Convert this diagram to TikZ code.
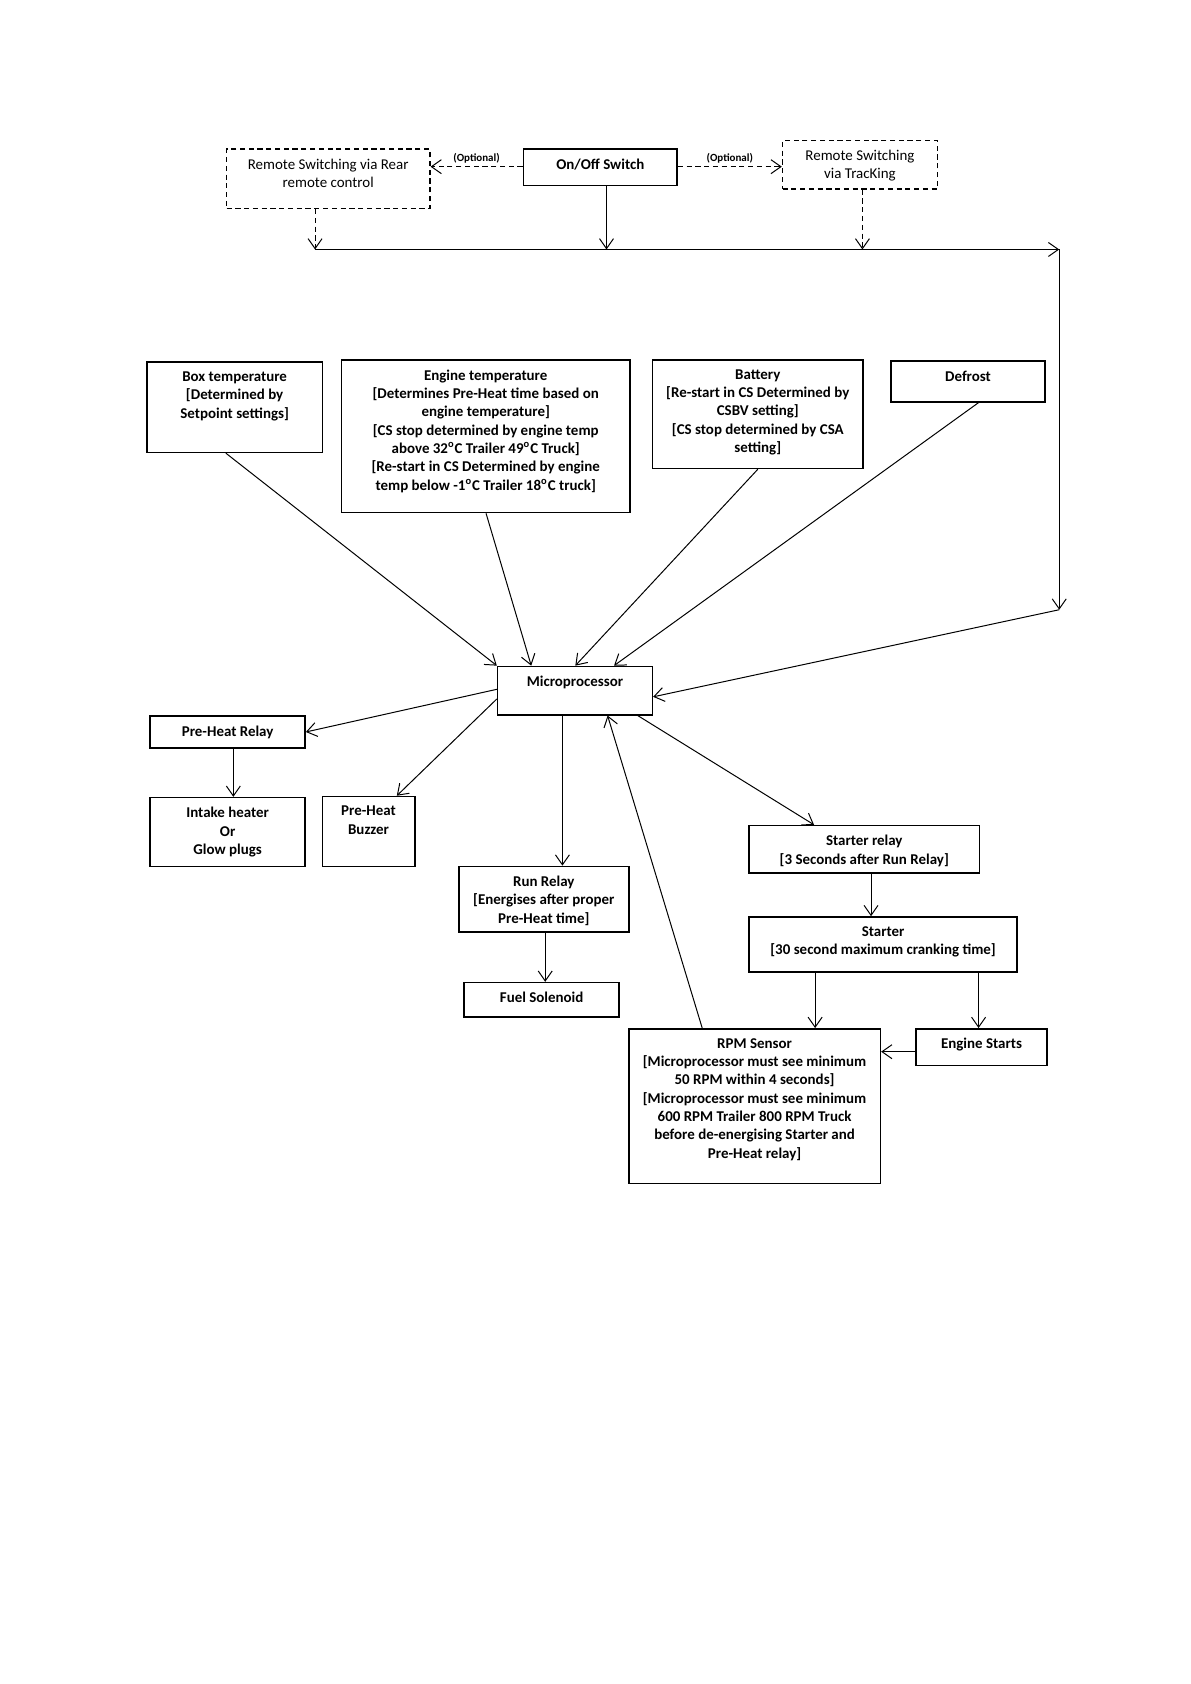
\documentclass[tikz,border=0pt]{standalone}
\usepackage{fontspec}
\setmainfont{Carlito}
\usetikzlibrary{arrows.meta}
\newlength{\px}\setlength{\px}{0.01897cm}
\newcommand{\blocktext}[3]{\begin{minipage}[c][#2\px][t]{#1\px}\centering\vspace*{9\px}#3\end{minipage}}
\newcommand{\dg}{\textsuperscript{o}}
\tikzset{
  blk/.style={draw, line width=0.75pt, inner sep=0pt, anchor=north west, font=\bfseries\fontsize{7.5}{9.2}\selectfont},
  dblk/.style={blk, dash pattern=on 2.6pt off 1.8pt, font=\fontsize{7.5}{9.2}\selectfont},
  arr/.style={-{Straight Barb[length=5pt,width=7pt]}, line width=0.5pt},
  darr/.style={arr, dash pattern=on 2.6pt off 1.8pt},
  opt/.style={font=\bfseries\fontsize{5.5}{6}\selectfont, inner sep=1.5pt}
}
\begin{document}
\begin{tikzpicture}[x=0.01897cm, y=-0.01897cm]
  \useasboundingbox (0,0) rectangle (1107,1566);
  % switching %
  \node[dblk] (remL) at (210,138) {\blocktext{189}{55}{Remote Switching via Rear\\remote control}};
  \node[blk] (onoff) at (486,138) {\blocktext{143}{34}{On/Off Switch}};
  \node[dblk] (remR) at (727,130) {\blocktext{144}{45}{Remote Switching\\via TracKing}};
  % inputs %
  \node[blk] (box) at (136,336) {\blocktext{163}{84}{Box temperature\\{[}Determined by\\Setpoint settings]}};
  \node[blk] (engine) at (317,334) {\blocktext{268}{142}{Engine temperature\\{[}Determines Pre-Heat time based on\\engine temperature]\\{[}CS stop determined by engine temp\\above 32\dg C Trailer 49\dg C Truck]\\{[}Re-start in CS Determined by engine\\temp below -1\dg C Trailer 18\dg C truck]}};
  \node[blk] (battery) at (606,334) {\blocktext{196}{101}{Battery\\{[}Re-start in CS Determined by\\CSBV setting]\\{[}CS stop determined by CSA\\setting]}};
  \node[blk] (defrost) at (828,335) {\blocktext{143}{38}{Defrost}};
  \node[blk] (micro) at (462,619) {\blocktext{144}{45}{Microprocessor}};
  % outputs %
  \node[blk] (prerelay) at (139,665) {\blocktext{144}{30}{Pre-Heat Relay}};
  \node[blk] (intake) at (139,741) {\blocktext{144}{64}{Intake heater\\Or\\Glow plugs}};
  \node[blk] (buzzer) at (299,740) {\blocktext{86}{65}{Pre-Heat\\Buzzer}};
  \node[blk] (runrelay) at (426,805) {\blocktext{158}{61}{Run Relay\\{[}Energises after proper\\Pre-Heat time]}};
  \node[blk] (fuel) at (431,913) {\blocktext{144}{32}{Fuel Solenoid}};
  \node[blk] (strelay) at (696,767) {\blocktext{214}{44}{Starter relay\\{[}3 Seconds after Run Relay]}};
  \node[blk] (starter) at (696,852) {\blocktext{249}{51}{Starter\\{[}30 second maximum cranking time]}};
  \node[blk] (rpm) at (584,956) {\blocktext{234}{144}{RPM Sensor\\{[}Microprocessor must see minimum\\50 RPM within 4 seconds]\\{[}Microprocessor must see minimum\\600 RPM Trailer 800 RPM Truck\\before de-energising Starter and\\Pre-Heat relay]}};
  \node[blk] (estarts) at (851,956) {\blocktext{122}{34}{Engine Starts}};

  \coordinate (busL) at (293,232);
  \coordinate (busR) at (985,232);
  \coordinate (busD) at (985,567);

  \draw[darr] (onoff.west |- 0,155) -- node[opt, above] {(Optional)} (remL.east |- 0,155);
  \draw[darr] (onoff.east |- 0,155) -- node[opt, above] {(Optional)} (remR.west |- 0,155);
  \draw[darr] (remL.south -| busL) -- (busL);
  \draw[arr] (onoff.south -| 564,0) -- (busL -| 564,0);
  \draw[darr] (remR.south -| 802,0) -- (busL -| 802,0);
  \draw[arr] (busL) -- (busR);
  \draw[arr] (busR) -- (busD);
  \draw[arr] (busD) -- (micro.east |- 0,648);

  \draw[arr] (box.south -| 210,0) -- (micro.north west);
  \draw[arr] (engine.south -| 452,0) -- (micro.north -| 494,0);
  \draw[arr] (battery.south) -- (micro.north -| 535,0);
  \draw[arr] (defrost.south -| 910,0) -- (micro.north -| 571,0);

  \draw[arr] (micro.west |- 0,641) -- (prerelay.east);
  \draw[arr] (micro.west |- 0,650) -- (buzzer.north -| 369,0);
  \draw[arr] (micro.south -| 523,0) -- (runrelay.north -| 523,0);
  \draw[arr] (micro.south -| 593,0) -- (strelay.north -| 757,0);
  \draw[arr] (rpm.north -| 653,0) -- (micro.south -| 565,0);
  \draw[arr] (prerelay.south -| 217,0) -- (intake.north -| 217,0);
  \draw[arr] (runrelay.south -| 507,0) -- (fuel.north -| 507,0);
  \draw[arr] (strelay.south -| 810,0) -- (starter.north -| 810,0);
  \draw[arr] (starter.south -| 758,0) -- (rpm.north -| 758,0);
  \draw[arr] (starter.south -| 910,0) -- (estarts.north -| 910,0);
  \draw[arr] (estarts.west |- 0,978) -- (rpm.east |- 0,978);
\end{tikzpicture}
\end{document}
